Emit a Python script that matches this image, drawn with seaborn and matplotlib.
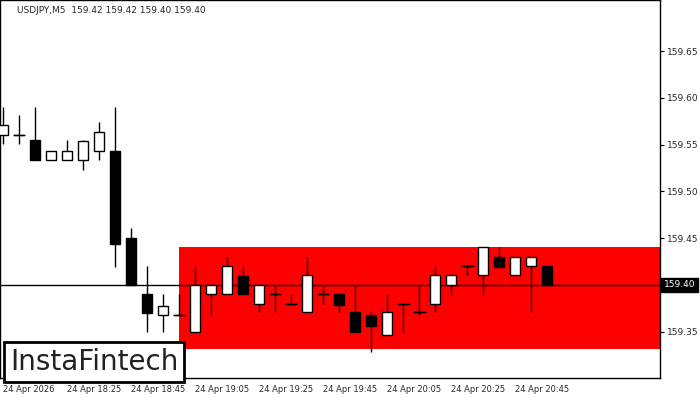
import matplotlib
matplotlib.use("Agg")
import matplotlib.pyplot as plt
import matplotlib.patches as mpatches
import numpy as np
import seaborn as sns

# =====================
# Data (USDJPY M5)
# =====================
opens  = [159.5604, 159.5604, 159.5551, 159.5337, 159.5337, 159.5337, 159.5433, 159.5433,
          159.4503, 159.3904, 159.3679, 159.3679, 159.3497, 159.3904, 159.3904, 159.4096,
          159.3797, 159.3904, 159.3797, 159.3711, 159.3904, 159.3904, 159.3711, 159.3679,
          159.3465, 159.3797, 159.3711, 159.3797, 159.4000, 159.4203, 159.4107, 159.4299,
          159.4107, 159.4203, 159.4203]
highs  = [159.5904, 159.5818, 159.5904, 159.5433, 159.5551, 159.5551, 159.5743, 159.5904,
          159.4610, 159.4203, 159.3904, 159.3904, 159.4203, 159.4000, 159.4299, 159.4203,
          159.4000, 159.4000, 159.3904, 159.4299, 159.4000, 159.3904, 159.4000, 159.3711,
          159.3904, 159.3797, 159.3989, 159.4203, 159.4107, 159.4203, 159.4406, 159.4406,
          159.4299, 159.4299, 159.4203]
lows   = [159.5508, 159.5508, 159.5337, 159.5337, 159.5337, 159.5230, 159.5337, 159.4193,
          159.4000, 159.3497, 159.3497, 159.3679, 159.3497, 159.3679, 159.3904, 159.3904,
          159.3711, 159.3711, 159.3797, 159.3711, 159.3797, 159.3711, 159.3497, 159.3283,
          159.3465, 159.3497, 159.3679, 159.3711, 159.3893, 159.4107, 159.3893, 159.4193,
          159.4107, 159.3711, 159.4000]
closes = [159.5711, 159.5604, 159.5337, 159.5433, 159.5433, 159.5540, 159.5636, 159.4439,
          159.4000, 159.3701, 159.3775, 159.3679, 159.4000, 159.4000, 159.4203, 159.3904,
          159.4000, 159.3904, 159.3797, 159.4107, 159.3904, 159.3786, 159.3497, 159.3561,
          159.3711, 159.3797, 159.3711, 159.4107, 159.4107, 159.4203, 159.4406, 159.4193,
          159.4299, 159.4299, 159.4000]

tick_idx = [0, 4, 8, 12, 16, 20, 24, 28, 32]
tick_labels = ["24 Apr 2026", "24 Apr 18:25", "24 Apr 18:45", "24 Apr 19:05", "24 Apr 19:25",
               "24 Apr 19:45", "24 Apr 20:05", "24 Apr 20:25", "24 Apr 20:45"]
y_ticks = [159.35, 159.45, 159.50, 159.55, 159.60, 159.65]

zone_start, zone_low, zone_high = 11, 159.3316, 159.4406
last_price = 159.40

# =====================
# Plot
# =====================
sns.set_style("white")
plt.rcParams["font.family"] = ["DejaVu Sans"]

fig = plt.figure(figsize=(7, 4), dpi=100)
ax = fig.add_axes([0.0, 0.055, 0.943, 0.945])

x = np.arange(len(opens))
o, h, l, c = map(np.array, (opens, highs, lows, closes))

ax.add_patch(mpatches.Rectangle((zone_start, zone_low), 100, zone_high - zone_low,
                                color="#ff0000", zorder=1, lw=0))
ax.axhline(last_price, color="black", lw=1, zorder=2)

ax.vlines(x, l, h, color="black", lw=1, zorder=3)
bottom = np.minimum(o, c)
height = np.maximum(np.abs(c - o), 0.00012)
face = ["white" if cc > oo else "black" for oo, cc in zip(o, c)]
ax.bar(x, height, bottom=bottom, width=0.62, color=face, edgecolor="black", lw=1, zorder=4)
for xi, oo, cc in zip(x, o, c):
    if abs(cc - oo) < 0.0002:
        ax.hlines(oo, xi - 0.4, xi + 0.4, color="black", lw=1, zorder=4)

ax.set_xlim(-0.19, 41.06)
ax.set_ylim(159.3005, 159.7048)

ax.yaxis.tick_right()
ax.set_yticks(y_ticks)
ax.set_yticklabels([f"{v:.2f}" for v in y_ticks], fontsize=6.5)
ax.set_xticks(tick_idx)
ax.set_xticklabels(tick_labels, fontsize=6, ha="left")
ax.tick_params(axis="both", length=3, color="black", pad=2)
for s in ax.spines.values():
    s.set_color("black")
    s.set_linewidth(1)

ax.text(1.006, last_price, f"{last_price:.2f}", transform=ax.get_yaxis_transform(),
        fontsize=6.5, color="white", va="center", ha="left",
        bbox=dict(boxstyle="square,pad=0.3", fc="black", ec="black"), clip_on=False)

ax.text(0.025, 0.985, "USDJPY,M5  159.42 159.42 159.40 159.40", transform=ax.transAxes,
        fontsize=6.5, va="top", ha="left")

fig.text(0.014, 0.06, "InstaFintech", fontsize=20, ha="left", va="bottom",
         color="#222222", zorder=10,
         bbox=dict(boxstyle="square,pad=0.2", fc="white", ec="black", lw=2))

fig.savefig("out.png", dpi=100)
